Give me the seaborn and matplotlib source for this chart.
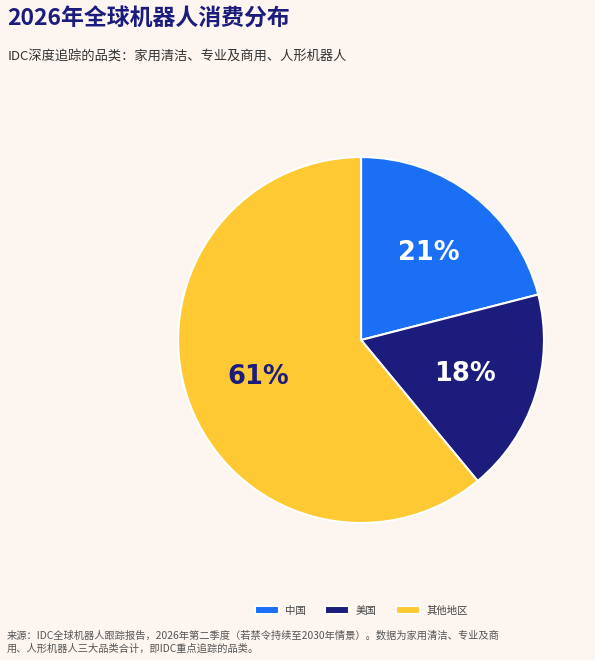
import matplotlib
matplotlib.use("Agg")
import matplotlib.pyplot as plt
import seaborn as sns

# chart data
regions = ["中国", "美国", "其他地区"]
shares = [21, 18, 61]
colors = ["#1a6ff5", "#1c1c7d", "#ffc933"]
label_colors = ["white", "white", "#1c1c7d"]

title = "2026年全球机器人消费分布"
subtitle = "IDC深度追踪的品类：家用清洁、专业及商用、人形机器人"
footnote = ("来源：IDC全球机器人跟踪报告，2026年第二季度（若禁令持续至2030年情景）。数据为家用清洁、专业及商\n"
            "用、人形机器人三大品类合计，即IDC重点追踪的品类。")

bg = "#fcf5f0"
navy = "#1c1c7d"


def main():
    sns.set_style("white")
    plt.rcParams["font.family"] = ["Noto Sans CJK SC", "DejaVu Sans"]

    fig = plt.figure(figsize=(5.95, 6.6), dpi=100, facecolor=bg)
    ax = fig.add_axes([0.2223, 0.1383, 0.769, 0.693])
    ax.set_facecolor(bg)

    palette = sns.color_palette(colors)
    wedges, texts, autotexts = ax.pie(
        shares, colors=palette, startangle=90, counterclock=False,
        autopct="%d%%", pctdistance=0.6,
        wedgeprops={"edgecolor": "white", "linewidth": 1.5})
    for t, c in zip(autotexts, label_colors):
        t.set_color(c)
        t.set_fontfamily("DejaVu Sans")
        t.set_fontweight("bold")
        t.set_fontsize(18.5)
    ax.set_aspect("equal")

    fig.text(0.012, 0.972, title, fontsize=16.5, fontweight="bold",
             color=navy, va="center", ha="left")
    fig.text(0.012, 0.915, subtitle, fontsize=9.5, color="#333333",
             va="center", ha="left")

    fig.legend(wedges, regions, loc="center", bbox_to_anchor=(0.607, 0.075),
               ncol=3, frameon=False, fontsize=7.5, handlelength=2.3,
               handleheight=0.7, columnspacing=1.9, handletextpad=0.6,
               labelcolor="#444444")

    # footnote (wrapped like the original)
    fig.text(0.012, 0.027, footnote, fontsize=7.35, color="#555555",
             style="italic", va="center", ha="left", linespacing=1.4)

    fig.savefig("out.png", dpi=100, facecolor=bg)


if __name__ == "__main__":
    main()
